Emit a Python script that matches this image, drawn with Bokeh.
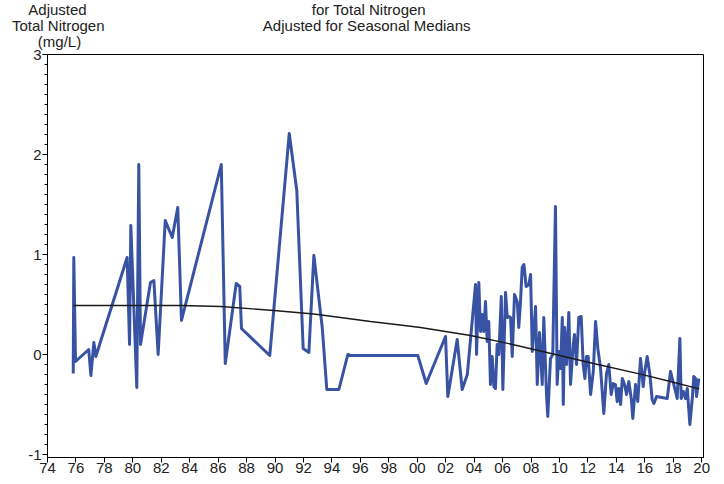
from bokeh.plotting import figure
from bokeh.models import Range1d, FixedTicker, Label
from bokeh.embed import file_html
from bokeh.resources import INLINE

# ---- data ----
years = [1975.81, 1975.85, 1975.97, 1976.90, 1977.05, 1977.26, 1977.40, 1979.60, 1979.77, 1979.86,
         1980.28, 1980.42, 1980.54, 1981.24, 1981.48, 1981.78, 1982.28, 1982.77, 1983.16, 1983.42,
         1986.22, 1986.50, 1987.27, 1987.52, 1987.64, 1989.63, 1991.00, 1991.53, 1991.98, 1992.38,
         1992.73, 1993.32, 1993.64, 1994.49, 1995.12, 1995.31, 2000.04, 2000.63, 2001.99, 2002.15,
         2002.81, 2003.16, 2003.52, 2004.10, 2004.17, 2004.33, 2004.45, 2004.57, 2004.68, 2004.80,
         2004.92, 2005.03, 2005.15, 2005.27, 2005.39, 2005.50, 2005.62, 2005.74, 2005.91, 2006.02,
         2006.21, 2006.33, 2006.44, 2006.56, 2006.68, 2006.84, 2007.03, 2007.14, 2007.26, 2007.38,
         2007.50, 2007.66, 2007.85, 2007.97, 2008.09, 2008.32, 2008.44, 2008.60, 2008.79, 2008.90,
         2009.09, 2009.18, 2009.37, 2009.53, 2009.72, 2009.84, 2009.96, 2010.08, 2010.20, 2010.27,
         2010.36, 2010.50, 2010.66, 2010.78, 2010.97, 2011.06, 2011.20, 2011.36, 2011.53, 2011.67,
         2011.79, 2011.90, 2012.02, 2012.19, 2012.38, 2012.54, 2012.70, 2012.89, 2013.12, 2013.31,
         2013.47, 2013.64, 2013.78, 2013.94, 2014.06, 2014.18, 2014.30, 2014.42, 2014.58, 2014.72,
         2014.88, 2015.05, 2015.16, 2015.35, 2015.51, 2015.70, 2015.89, 2015.98, 2016.17, 2016.36,
         2016.52, 2016.64, 2016.83, 2017.58, 2017.81, 2018.04, 2018.28, 2018.47, 2018.56, 2018.71,
         2018.87, 2018.99, 2019.17, 2019.34, 2019.45, 2019.57, 2019.64, 2019.80]

adj_tn = [-0.19, 0.97, -0.07, 0.05, -0.21, 0.12, -0.02, 0.97, 0.10, 1.29,
          -0.33, 1.90, 0.10, 0.72, 0.74, 0.00, 1.34, 1.17, 1.47, 0.34,
          1.90, -0.09, 0.71, 0.68, 0.26, -0.01, 2.21, 1.64, 0.06, 0.02,
          0.99, 0.27, -0.35, -0.35, 0.00, -0.01, -0.01, -0.29, 0.18, -0.42,
          0.15, -0.35, -0.20, 0.70, 0.00, 0.72, 0.23, 0.40, 0.23, 0.53,
          0.13, 0.33, -0.30, -0.02, -0.32, -0.34, 0.10, 0.00, 0.58, -0.35,
          0.62, 0.37, 0.38, 0.37, -0.02, 0.60, 0.53, 0.27, 0.52, 0.87,
          0.90, 0.68, 0.70, 0.80, 0.03, 0.48, -0.30, 0.22, -0.30, 0.37,
          -0.40, -0.62, -0.04, 0.00, 1.48, -0.30, 0.03, -0.14, 0.37, -0.50,
          0.27, -0.10, 0.42, -0.30, 0.10, 0.20, -0.10, 0.37, 0.38, -0.10,
          -0.24, -0.02, -0.02, -0.40, -0.17, 0.33, 0.06, -0.14, -0.59, -0.19,
          -0.10, -0.40, -0.29, -0.30, -0.47, -0.34, -0.50, -0.24, -0.30, -0.40,
          -0.27, -0.44, -0.64, -0.30, -0.47, -0.04, -0.32, -0.19, -0.02, -0.20,
          -0.45, -0.49, -0.42, -0.44, -0.17, -0.30, -0.44, 0.16, -0.44, -0.37,
          -0.44, -0.34, -0.70, -0.44, -0.22, -0.24, -0.42, -0.24]

smooth_years = [1975.81, 1979.5, 1983.35, 1986.17, 1989.91, 1992.73, 1994.6, 1996.71,
                1998.5, 2000.23, 2003.75, 2006.7, 2009.72, 2012.7, 2015.7, 2017.8, 2019.83]
smooth_vals = [0.49, 0.49, 0.49, 0.48, 0.44, 0.405, 0.37, 0.33,
               0.30, 0.27, 0.19, 0.10, 0.0, -0.10, -0.197, -0.27, -0.343]

x_ticks = list(range(1974, 2021, 2))
x_tick_labels = {t: "%02d" % (t % 100) for t in x_ticks}
y_ticks = [-1, 0, 1, 2, 3]
y_tick_labels = {-1: "-1", 0: "0", 1: "1", 2: "2", 3: "3"}

title_lines = ["for Total Nitrogen", "Adjusted for Seasonal Medians"]
ylabel_lines = ["Adjusted", "Total Nitrogen", "(mg/L)"]

FONT = "Liberation Sans"
NB = "\u00a0"

p = figure(width=724, height=484, output_backend="svg", toolbar_location=None,
           x_range=Range1d(1974, 2020.13), y_range=Range1d(-1.03, 3.0),
           min_border_left=47, min_border_right=21, min_border_top=54, min_border_bottom=27)
p.background_fill_color = "white"
p.border_fill_color = "white"
p.outline_line_color = "black"
p.outline_line_width = 1
p.grid.visible = False

p.line(years, adj_tn, line_color="#3953a4", line_width=3, line_join="round")
p.line(smooth_years, smooth_vals, line_color="#1a1a1a", line_width=1.3)

xa = p.xaxis[0]
xa.ticker = FixedTicker(ticks=x_ticks)
xa.major_label_overrides = x_tick_labels
xa.major_tick_out = 5
xa.major_tick_in = 0
xa.minor_tick_line_color = None
xa.major_label_standoff = 0
xa.major_label_text_font = FONT
xa.major_label_text_font_size = "15px"
xa.major_label_text_color = "#222222"
xa.axis_line_color = "black"
xa.major_tick_line_color = "black"

ya = p.yaxis[0]
ya.ticker = FixedTicker(ticks=y_ticks,
                        minor_ticks=[round(-1 + 0.1 * i, 1) for i in range(41)])
ya.major_label_overrides = y_tick_labels
ya.major_tick_out = 5
ya.major_tick_in = 0
ya.minor_tick_out = 3
ya.minor_tick_in = 0
ya.major_label_standoff = 1
ya.major_label_text_font = FONT
ya.major_label_text_font_size = "15px"
ya.major_label_text_color = "#222222"
ya.axis_line_color = "black"
ya.major_tick_line_color = "black"
ya.minor_tick_line_color = "black"

# header: one Label per text row (so the top panel stays within the 54px border);
# the horizontal y-axis label and the centred title share the first two rows
rows = [
    (1972.65, ylabel_lines[0] + NB * 54 + title_lines[0]),
    (1971.50, ylabel_lines[1] + NB * 38 + title_lines[1]),
    (1973.32, ylabel_lines[2]),
]
for i, (x0, t) in enumerate(rows):
    p.add_layout(Label(x=x0, y=3.451 - 0.16 * i, text=t, text_align="left",
                       text_baseline="middle", text_font=FONT, text_font_size="15px",
                       text_color="#222222"), "above")

open("out.html", "w").write(file_html(p, INLINE))
